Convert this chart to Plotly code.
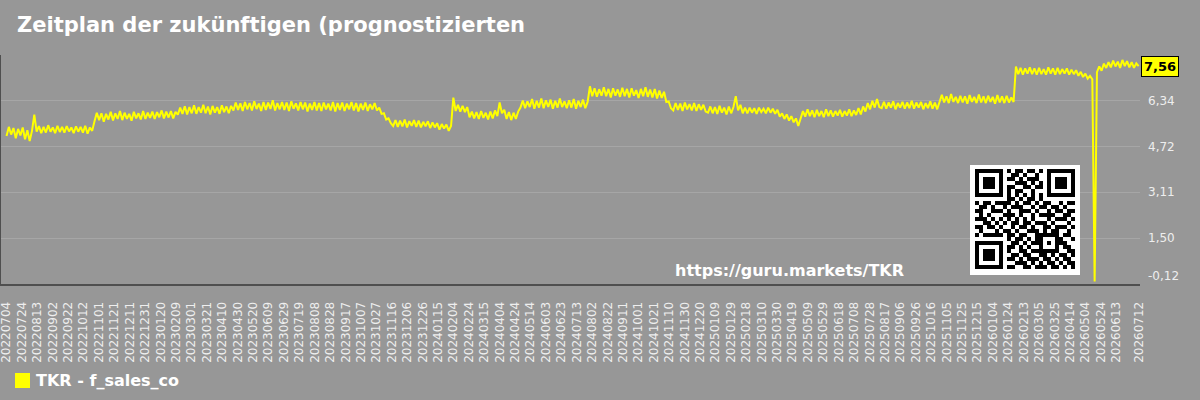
import pandas as pd
import plotly.graph_objects as go

# ---------------- data ----------------
start_date = "2022-07-04"
end_date = "2026-07-12"

values = [
    # mid 2022
    5.10, 5.42, 5.15, 5.38, 5.02, 5.35, 5.12, 5.40, 4.98, 5.30, 4.92, 5.28, 5.85, 5.25, 5.45, 5.20, 5.42, 5.22, 5.48, 5.25,
    5.40, 5.20, 5.46, 5.24, 5.42, 5.22, 5.45, 5.26, 5.40, 5.20, 5.44, 5.25, 5.42, 5.22, 5.46, 5.18, 5.40, 5.28,
    5.62, 5.92, 5.66, 5.90, 5.60, 5.88, 5.68, 5.95, 5.65, 5.90, 5.70, 5.98, 5.66, 5.92, 5.70, 5.88, 5.64, 5.95, 5.72, 5.90,
    5.68, 5.98, 5.70, 5.92, 5.74, 5.96, 5.70, 5.94, 5.76, 6.00, 5.72, 5.96, 5.75, 5.98, 5.72, 5.95,
    5.85, 6.10, 5.88, 6.15, 5.86, 6.12, 5.90, 6.18, 5.88, 6.12, 5.92, 6.20, 5.90, 6.14, 5.86, 6.16, 5.92, 6.12, 5.88, 6.18,
    5.94, 6.14, 5.90, 6.16,
    # 2023
    6.00, 6.28, 6.02, 6.25, 5.98, 6.30, 6.04, 6.26, 6.00, 6.32, 6.05, 6.24, 5.98, 6.30, 6.02, 6.28, 6.05, 6.36, 6.00, 6.26,
    6.04, 6.30, 6.02, 6.28, 5.98, 6.32, 6.06, 6.25, 6.00, 6.30, 6.04, 6.28, 5.96, 6.24, 6.02, 6.30, 6.00, 6.26, 5.98, 6.28,
    6.04, 6.24, 6.00, 6.30, 5.96, 6.26, 6.02, 6.28, 5.98, 6.24, 6.04, 6.30, 6.00, 6.26, 5.96, 6.24, 6.02, 6.28, 5.98, 6.22,
    6.04, 6.26, 6.00,
    6.10, 5.88, 5.90, 5.68, 5.72, 5.55,
    5.45, 5.66, 5.42, 5.64, 5.44, 5.68, 5.40, 5.62, 5.46, 5.66, 5.42, 5.64, 5.40, 5.60, 5.44, 5.62, 5.38, 5.58, 5.40, 5.55,
    5.32, 5.52, 5.36, 5.50, 5.28, 5.45,
    # 2024
    6.45, 5.98, 6.20, 5.96, 6.16, 5.94, 6.12,
    5.76, 5.96, 5.72, 5.94, 5.70, 5.98, 5.74, 5.92, 5.68, 5.96, 5.72, 6.00, 5.80, 6.28, 5.90, 6.02, 5.70, 5.94, 5.66, 5.92,
    5.70, 5.96,
    6.10, 6.35, 6.08, 6.32, 6.12, 6.40, 6.06, 6.34, 6.10, 6.42, 6.08, 6.36, 6.12, 6.38, 6.06, 6.34, 6.10, 6.42, 6.12, 6.32,
    6.08, 6.36, 6.10, 6.40, 6.06, 6.34, 6.12, 6.38, 6.08, 6.30,
    6.85, 6.50, 6.78, 6.48, 6.75, 6.52, 6.82, 6.50, 6.76, 6.46, 6.78, 6.52, 6.74, 6.48, 6.80, 6.50, 6.76, 6.46, 6.78, 6.52,
    6.72, 6.44, 6.76, 6.50, 6.82, 6.48, 6.74, 6.46, 6.76, 6.42, 6.70, 6.44, 6.66,
    6.30, 6.32, 6.08,
    6.00, 6.26, 6.02, 6.24, 5.98, 6.28, 6.04, 6.22, 6.00, 6.26, 5.98, 6.22, 6.02, 6.20, 5.96,
    # 2025
    5.92, 6.14, 5.90, 6.12, 5.88, 6.16, 5.92, 6.10, 5.86, 6.14, 5.90, 6.12, 6.50, 6.00, 6.20, 5.90, 6.10,
    5.90, 6.10, 5.92, 6.08, 5.88, 6.10, 5.94, 6.06, 5.90, 6.10, 5.92, 6.06, 5.88, 6.02,
    5.78, 5.90, 5.70, 5.86, 5.64, 5.80, 5.58, 5.72, 5.45,
    5.70, 5.98, 5.78, 6.04, 5.80, 6.00, 5.76, 6.02, 5.80, 5.98, 5.76, 6.04, 5.80, 6.00, 5.78, 5.98, 5.82, 6.02, 5.78, 5.98,
    5.82, 6.04, 5.80, 6.00, 5.84, 6.08, 5.86,
    6.14, 5.96, 6.26, 6.04, 6.34, 6.10, 6.40, 6.12,
    6.08, 6.30, 6.06, 6.28, 6.10, 6.32, 6.04, 6.26, 6.10, 6.30, 6.06, 6.28, 6.08, 6.34, 6.06, 6.28, 6.10, 6.30, 6.04, 6.26,
    6.08, 6.32, 6.06, 6.28, 6.04, 6.30,
    6.55, 6.28, 6.50, 6.26, 6.58, 6.30, 6.48, 6.26, 6.52, 6.28, 6.50, 6.24, 6.54, 6.30, 6.48, 6.26, 6.56, 6.28, 6.50, 6.26,
    6.52, 6.30, 6.48, 6.24, 6.54, 6.28, 6.50, 6.26, 6.52, 6.28, 6.46, 6.30,
    # 2026
    7.55, 7.28, 7.50, 7.26, 7.48, 7.30, 7.52, 7.28, 7.48, 7.26, 7.50, 7.28, 7.46, 7.26, 7.52, 7.30, 7.48, 7.26, 7.50, 7.28,
    7.46, 7.30, 7.48, 7.26, 7.44, 7.28, 7.42, 7.22, 7.36, 7.18, 7.30, 7.12,
    7.22, 7.10, -0.03,
    7.35, 7.55, 7.40, 7.65, 7.50, 7.70, 7.52, 7.76, 7.55, 7.72, 7.50, 7.78, 7.56, 7.74, 7.52, 7.70, 7.50, 7.66, 7.56,
]

last_value_label = "7,56"
y_tick_values = [-0.12, 1.50, 3.11, 4.72, 6.34]
y_tick_labels = ["-0,12", "1,50", "3,11", "4,72", "6,34"]
y_grid_values = [-0.12, 1.495, 3.11, 4.725, 6.34, 7.955]

x_tick_dates = list(pd.date_range("2022-07-04", "2026-06-13", freq="20D")) + [pd.Timestamp("2026-07-12")]
x_tick_labels = [d.strftime("%Y%m%d") for d in x_tick_dates]

title_text = "Zeitplan der zukünftigen (prognostizierten"
legend_text = "TKR - f_sales_co"
watermark_text = "https://guru.markets/TKR"

qr_rows = [
    "1111111010110110101111111",
    "1000001001101001001000001",
    "1011101011010111001011101",
    "1011101000111010101011101",
    "1011101011001101101011101",
    "1000001010110010001000001",
    "1111111010101010101111111",
    "0000000011010110100000000",
    "1011011110101101011001011",
    "0110100101110010110110100",
    "1100111010011101001011011",
    "0101000111010010111100110",
    "1110101010101010001011101",
    "0011010101101101110100010",
    "1101101001011010011011101",
    "0100010110100111010110010",
    "1011111011011001111110110",
    "0000000010110101100011001",
    "1111111001101011101011100",
    "1000001011010100100010110",
    "1011101010011011111110011",
    "1011101001101100110101101",
    "1011101011010111011010110",
    "1000001000111010101101011",
    "1111111011001101110110101",
]

# ---------------- figure ----------------
dates = pd.date_range(start_date, end_date, periods=len(values))

BG = "#979797"
W, H = 1200, 400
ML, MR, MT, MB = 1, 60, 55, 116
PW, PH = W - ML - MR, H - MT - MB


def px(x):
    return (x - ML) / PW


def py(y):
    return (H - MB - y) / PH


fig = go.Figure()
fig.add_trace(go.Scatter(x=dates, y=values, mode="lines",
                         line=dict(color="#ffff00", width=2),
                         showlegend=False, hoverinfo="skip"))

fig.update_layout(
    width=W, height=H,
    margin=dict(l=ML, r=MR, t=MT, b=MB, pad=0, autoexpand=False),
    paper_bgcolor=BG, plot_bgcolor=BG,
    font=dict(family="DejaVu Sans", color="#eeeeee"),
    showlegend=False,
)
fig.update_xaxes(
    type="date",
    range=["2022-06-26 20:00", "2026-07-13 19:00"],
    tickvals=x_tick_dates, ticktext=x_tick_labels,
    tickangle=-90, tickfont=dict(size=12, color="#eeeeee"),
    ticks="outside", ticklen=11, tickcolor=BG,
    ticklabeloverflow="allow", automargin=False,
    showgrid=False, zeroline=False,
    showline=True, linecolor="#4f4f4f", linewidth=2,
)
fig.update_yaxes(
    range=[-0.12, 7.955],
    tickvals=y_grid_values, showticklabels=False,
    showgrid=True, gridcolor="#a6a6a6", gridwidth=1,
    zeroline=False, automargin=False,
    showline=True, linecolor="#4f4f4f", linewidth=2,
)

annotations = []
# title
annotations.append(dict(x=px(15), y=py(25), xref="paper", yref="paper", xanchor="left", yanchor="middle",
                        text="<b>" + title_text + "</b>", showarrow=False,
                        font=dict(size=21, color="#ffffff", family="DejaVu Sans")))
# y tick labels on right
for v, t in zip(y_tick_values, y_tick_labels):
    shift = 8 if v == y_tick_values[0] else 0
    annotations.append(dict(x=1, y=v, xref="paper", yref="y", xanchor="left", yanchor="middle",
                            xshift=6, yshift=shift, text=t, showarrow=False,
                            font=dict(size=12, color="#eeeeee", family="DejaVu Sans")))
# last value box
annotations.append(dict(x=1, y=values[-1], xref="paper", yref="y", xanchor="left", yanchor="middle",
                        xshift=1, text="<b>" + last_value_label + "</b>", showarrow=False,
                        bgcolor="#ffff00", bordercolor="#000000", borderwidth=1, borderpad=2,
                        font=dict(size=13, color="#000000", family="DejaVu Sans")))
# watermark
annotations.append(dict(x=px(789), y=py(270), xref="paper", yref="paper", xanchor="center", yanchor="middle",
                        text="<b>" + watermark_text + "</b>", showarrow=False,
                        font=dict(size=16, color="#ffffff", family="DejaVu Sans")))
# legend text
annotations.append(dict(x=px(34), y=py(380), xref="paper", yref="paper", xanchor="left", yanchor="middle",
                        text="<b>" + legend_text + "</b>", showarrow=False,
                        font=dict(size=16, color="#ffffff", family="DejaVu Sans")))
fig.update_layout(annotations=annotations)

shapes = []
# legend swatch
shapes.append(dict(type="rect", xref="paper", yref="paper",
                   x0=px(15), x1=px(30), y0=py(388), y1=py(373),
                   fillcolor="#ffff00", line=dict(width=0)))
# QR code box
shapes.append(dict(type="rect", xref="paper", yref="paper",
                   x0=px(970), x1=px(1080), y0=py(275), y1=py(165),
                   fillcolor="#ffffff", line=dict(width=0), layer="above"))
mod = 4.0
qx0, qy0 = 975, 169
path = ""
for r, row in enumerate(qr_rows):
    row = (row + "0" * 25)[:25]
    c = 0
    while c < 25:
        if row[c] == "1":
            c2 = c
            while c2 < 25 and row[c2] == "1":
                c2 += 1
            xa, xb = px(qx0 + c * mod), px(qx0 + c2 * mod)
            ya, yb = py(qy0 + r * mod), py(qy0 + (r + 1) * mod)
            path += f"M{xa},{ya}L{xb},{ya}L{xb},{yb}L{xa},{yb}Z"
            c = c2
        else:
            c += 1
shapes.append(dict(type="path", xref="paper", yref="paper", path=path,
                   fillcolor="#000000", line=dict(width=0), layer="above"))
fig.update_layout(shapes=shapes)

fig.write_html("out.html")
